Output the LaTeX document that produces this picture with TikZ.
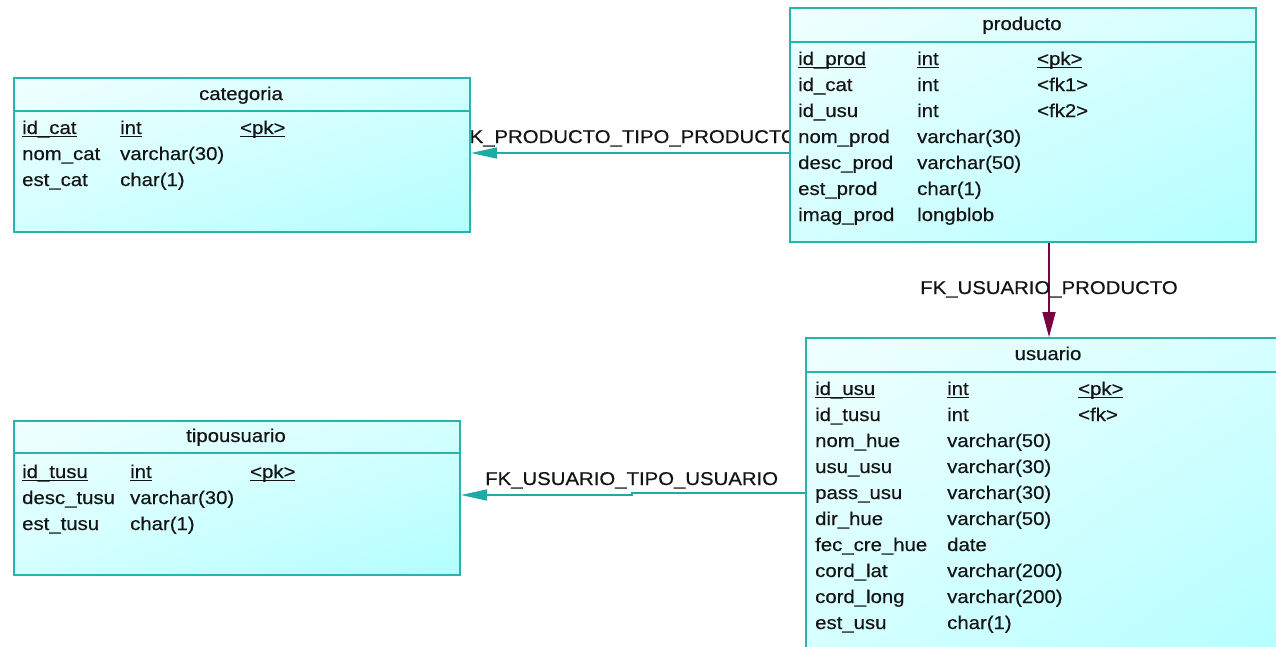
\documentclass[tikz,border=0pt]{standalone}
\usepackage{fontspec}
\setmainfont[FakeStretch=1.1,FakeBold=0.4]{Liberation Sans}
\usetikzlibrary{arrows.meta,shadings}
\definecolor{tborder}{RGB}{42,178,172}
\definecolor{tarrow}{RGB}{30,170,165}
\definecolor{fkmag}{RGB}{122,0,64}
\definecolor{txt}{RGB}{20,20,20}
\definecolor{cA}{RGB}{240,255,255}
\definecolor{cB}{RGB}{212,255,255}
\definecolor{cC}{RGB}{178,255,255}
\newcommand{\ulkey}[1]{\setbox0\hbox{#1}\rlap{\rule[-3pt]{\wd0}{1.3pt}}\box0}
\begin{document}
\begin{tikzpicture}[x=1pt,y=-1pt,
  font=\fontsize{18.5}{22}\selectfont,
  tbl/.style={rectangle, draw=tborder, line width=2pt, inner sep=0pt, anchor=north west,
    upper left=cA, upper right=cB, lower left=cB, lower right=cC},
  hline/.style={draw=tborder, line width=2pt},
  ttl/.style={anchor=base, inner sep=0pt, text=txt},
  cell/.style={anchor=base west, inner sep=0pt, text=txt},
  lbl/.style={anchor=base west, inner sep=0pt, text=txt},
  fkteal/.style={draw=tarrow, line width=1.6pt, -{Triangle[length=26pt,width=11pt]}},
  fkmagenta/.style={draw=fkmag, line width=1.6pt, -{Triangle[length=25pt,width=13pt]}}
]
\useasboundingbox[fill=white] (0,0) rectangle (1276,646);

% labels (partly hidden under tables)
\node[lbl] (l1) at (457,143) {FK\_PRODUCTO\_TIPO\_PRODUCTO};
\node[lbl] (l2) at (485,485) {FK\_USUARIO\_TIPO\_USUARIO};

% ---------- categoria ----------
\node[tbl, minimum width=456pt, minimum height=154pt] (categoria) at (13,77) {};
\draw[hline] ([yshift=-34pt]categoria.north west) -- ([yshift=-34pt]categoria.north east);
\node[ttl] (cat-t) at (241,100) {categoria};
\node[cell] (cat-1n) at (22,134) {\ulkey{id\_cat}};
\node[cell] (cat-1t) at (120,134) {\ulkey{int}};
\node[cell] (cat-1k) at (240,134) {\ulkey{<pk>}};
\node[cell] (cat-2n) at (22,160) {nom\_cat};
\node[cell] (cat-2t) at (120,160) {varchar(30)};
\node[cell] (cat-3n) at (22,186) {est\_cat};
\node[cell] (cat-3t) at (120,186) {char(1)};

% ---------- producto ----------
\node[tbl, minimum width=466pt, minimum height=234pt] (producto) at (789,7) {};
\draw[hline] ([yshift=-35pt]producto.north west) -- ([yshift=-35pt]producto.north east);
\node[ttl] (pro-t) at (1022,30) {producto};
\node[cell] (pro-1n) at (798,65) {\ulkey{id\_prod}};
\node[cell] (pro-1t) at (917,65) {\ulkey{int}};
\node[cell] (pro-1k) at (1037,65) {\ulkey{<pk>}};
\node[cell] (pro-2n) at (798,91) {id\_cat};
\node[cell] (pro-2t) at (917,91) {int};
\node[cell] (pro-2k) at (1037,91) {<fk1>};
\node[cell] (pro-3n) at (798,117) {id\_usu};
\node[cell] (pro-3t) at (917,117) {int};
\node[cell] (pro-3k) at (1037,117) {<fk2>};
\node[cell] (pro-4n) at (798,143) {nom\_prod};
\node[cell] (pro-4t) at (917,143) {varchar(30)};
\node[cell] (pro-5n) at (798,169) {desc\_prod};
\node[cell] (pro-5t) at (917,169) {varchar(50)};
\node[cell] (pro-6n) at (798,195) {est\_prod};
\node[cell] (pro-6t) at (917,195) {char(1)};
\node[cell] (pro-7n) at (798,221) {imag\_prod};
\node[cell] (pro-7t) at (917,221) {longblob};

% ---------- usuario ----------
\node[tbl, minimum width=486pt, minimum height=330pt] (usuario) at (805,337) {};
\draw[hline] ([yshift=-35pt]usuario.north west) -- ([yshift=-35pt]usuario.north east);
\node[ttl] (usu-t) at (1048,360) {usuario};
\node[cell] (usu-1n) at (815,395) {\ulkey{id\_usu}};
\node[cell] (usu-1t) at (947,395) {\ulkey{int}};
\node[cell] (usu-1k) at (1078,395) {\ulkey{<pk>}};
\node[cell] (usu-2n) at (815,421) {id\_tusu};
\node[cell] (usu-2t) at (947,421) {int};
\node[cell] (usu-2k) at (1078,421) {<fk>};
\node[cell] (usu-3n) at (815,447) {nom\_hue};
\node[cell] (usu-3t) at (947,447) {varchar(50)};
\node[cell] (usu-4n) at (815,473) {usu\_usu};
\node[cell] (usu-4t) at (947,473) {varchar(30)};
\node[cell] (usu-5n) at (815,499) {pass\_usu};
\node[cell] (usu-5t) at (947,499) {varchar(30)};
\node[cell] (usu-6n) at (815,525) {dir\_hue};
\node[cell] (usu-6t) at (947,525) {varchar(50)};
\node[cell] (usu-7n) at (815,551) {fec\_cre\_hue};
\node[cell] (usu-7t) at (947,551) {date};
\node[cell] (usu-8n) at (815,577) {cord\_lat};
\node[cell] (usu-8t) at (947,577) {varchar(200)};
\node[cell] (usu-9n) at (815,603) {cord\_long};
\node[cell] (usu-9t) at (947,603) {varchar(200)};
\node[cell] (usu-10n) at (815,629) {est\_usu};
\node[cell] (usu-10t) at (947,629) {char(1)};

% ---------- tipousuario ----------
\node[tbl, minimum width=446pt, minimum height=154pt] (tipousuario) at (13,420) {};
\draw[hline] ([yshift=-33pt]tipousuario.north west) -- ([yshift=-33pt]tipousuario.north east);
\node[ttl] (tip-t) at (236,442) {tipousuario};
\node[cell] (tip-1n) at (22,478) {\ulkey{id\_tusu}};
\node[cell] (tip-1t) at (130,478) {\ulkey{int}};
\node[cell] (tip-1k) at (250,478) {\ulkey{<pk>}};
\node[cell] (tip-2n) at (22,504) {desc\_tusu};
\node[cell] (tip-2t) at (130,504) {varchar(30)};
\node[cell] (tip-3n) at (22,530) {est\_tusu};
\node[cell] (tip-3t) at (130,530) {char(1)};

% ---------- connectors ----------
\coordinate (a1) at (600,153);
\draw[fkteal] (a1 -| producto.west) -- (a1 -| categoria.east);

\coordinate (j1) at (632,493);
\coordinate (j2) at (632,495);
\draw[fkteal] (j1 -| usuario.west) -- (j1) -- (j2) -- (j2 -| tipousuario.east);

\draw[fkmagenta] (usuario.north |- producto.south) -- (usuario.north);
\node[ttl] (l3) at (1049,294) {FK\_USUARIO\_PRODUCTO};
\end{tikzpicture}
\end{document}
